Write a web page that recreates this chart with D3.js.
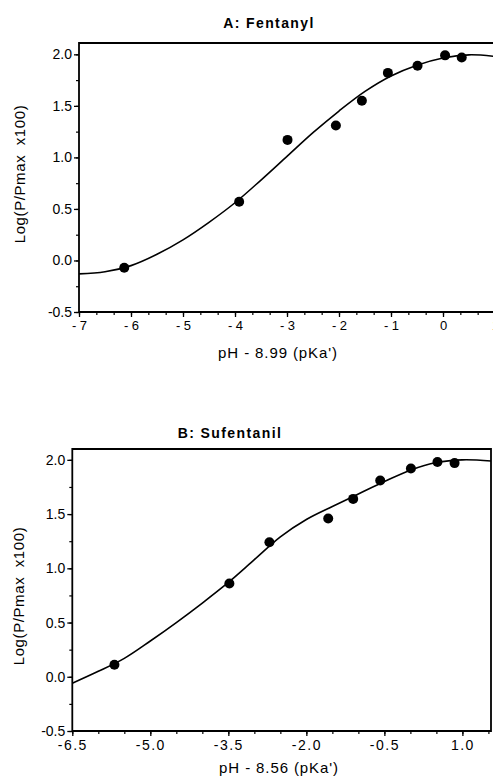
<!DOCTYPE html>
<html><head><meta charset="utf-8">
<script src="https://cdn.jsdelivr.net/npm/d3@7"></script>
<style>
html,body{margin:0;padding:0;background:#fff;}
svg text{font-family:"Liberation Sans",Arial,Helvetica,sans-serif;fill:#000;}
</style></head>
<body>
<svg id="c" width="493" height="781"></svg>
<script>
// ---- Panel A: Fentanyl ----
const titleA = "A: Fentanyl";
const xLabelA = "pH - 8.99 (pKa')";
const yLabel = "Log(P/Pmax  x100)";
const pointsAx = [-6.13, -3.92, -2.99, -2.06, -1.56, -1.06, -0.49, 0.04, 0.36];
const pointsAy = [-0.07, 0.57, 1.17, 1.31, 1.55, 1.82, 1.89, 1.99, 1.97];
const curveAx = [-7, -6.5, -6, -5.5, -5, -4.5, -4, -3.5, -3, -2.5, -2, -1.5, -1, -0.5, 0, 0.5, 1];
const curveAy = [-0.13, -0.11, -0.05, 0.06, 0.20, 0.37, 0.56, 0.78, 1.01, 1.24, 1.45, 1.64, 1.79, 1.895, 1.965, 1.995, 1.98];
const xTicksA = [-7, -6, -5, -4, -3, -2, -1, 0, 1];
const xTickLabelsA = ["- 7", "- 6", "- 5", "- 4", "- 3", "- 2", "- 1", "0", "1"];
const yTicks = [-0.5, 0, 0.5, 1, 1.5, 2];
const yTickLabels = ["-0.5", "0.0", "0.5", "1.0", "1.5", "2.0"];

// ---- Panel B: Sufentanil ----
const titleB = "B: Sufentanil";
const xLabelB = "pH - 8.56 (pKa')";
const pointsBx = [-5.69, -3.48, -2.71, -1.58, -1.10, -0.58, 0.01, 0.52, 0.85];
const pointsBy = [0.11, 0.86, 1.24, 1.46, 1.64, 1.81, 1.92, 1.98, 1.97];
const curveBx = [-6.5, -6, -5.5, -5, -4.5, -4, -3.5, -3, -2.5, -2, -1.5, -1, -0.5, 0, 0.5, 1, 1.55];
const curveBy = [-0.06, 0.05, 0.17, 0.33, 0.50, 0.68, 0.87, 1.08, 1.29, 1.45, 1.57, 1.685, 1.80, 1.905, 1.975, 2.0, 1.99];
const xTicksB = [-6.5, -5.0, -3.5, -2.0, -0.5, 1.0];
const xTickLabelsB = ["-6.5", "-5.0", "-3.5", "-2.0", "-0.5", "1.0"];

const svg = d3.select("#c");

function panel(cfg) {
  const x = d3.scaleLinear().domain(cfg.xDomain).range(cfg.xRange);
  const y = d3.scaleLinear().domain(cfg.yDomain).range(cfg.yRange);
  const g = svg.append("g");
  const [x0, x1] = cfg.xRange, [y0, y1] = cfg.yRange; // y0 bottom, y1 top

  const clipId = "clip" + cfg.id;
  svg.append("clipPath").attr("id", clipId).append("rect")
    .attr("x", x0).attr("y", y1).attr("width", x1 - x0).attr("height", y0 - y1);

  // minor ticks
  const xMinor = d3.range(cfg.xDomain[0], cfg.xDomain[1] + 1e-9, cfg.xMinorStep);
  g.append("g").attr("transform", `translate(0,${y0})`)
    .call(d3.axisBottom(x).tickValues(xMinor).tickSize(3).tickFormat(""))
    .call(a => a.select(".domain").remove())
    .call(a => a.selectAll("line").attr("stroke-width", 1.2));
  const yMinor = d3.range(-0.5, 2.01, 0.25);
  g.append("g").attr("transform", `translate(${x0},0)`)
    .call(d3.axisLeft(y).tickValues(yMinor).tickSize(3).tickFormat(""))
    .call(a => a.select(".domain").remove())
    .call(a => a.selectAll("line").attr("stroke-width", 1.2));

  // major x axis
  const xa = g.append("g").attr("transform", `translate(0,${y0})`)
    .call(d3.axisBottom(x).tickValues(cfg.xTicks).tickSize(5).tickPadding(4)
      .tickFormat((d, i) => cfg.xTickLabels[i]));
  xa.select(".domain").remove();
  xa.selectAll("line").attr("stroke-width", 1.3);
  xa.selectAll("text").style("font-size", cfg.xTickFont + "px")
    .style("letter-spacing", cfg.xTickLS + "px").attr("fill", "#000");

  // major y axis
  const ya = g.append("g").attr("transform", `translate(${x0},0)`)
    .call(d3.axisLeft(y).tickValues(yTicks).tickSize(5).tickPadding(2)
      .tickFormat((d, i) => yTickLabels[i]));
  ya.select(".domain").remove();
  ya.selectAll("line").attr("stroke-width", 1.3);
  ya.selectAll("text").style("font-size", "14px").attr("fill", "#000");

  // frame
  g.append("path")
    .attr("d", cfg.frame)
    .attr("fill", "none").attr("stroke", "#000").attr("stroke-width", 1.8);

  // curve
  const line = d3.line().x(d => x(d[0])).y(d => y(d[1])).curve(d3.curveCatmullRom.alpha(0.5));
  g.append("path")
    .datum(cfg.curveX.map((v, i) => [v, cfg.curveY[i]]))
    .attr("clip-path", `url(#${clipId})`)
    .attr("d", line).attr("fill", "none").attr("stroke", "#000").attr("stroke-width", 1.6);

  // points
  g.append("g").selectAll("circle")
    .data(cfg.px.map((v, i) => [v, cfg.py[i]]))
    .join("circle")
    .attr("cx", d => x(d[0])).attr("cy", d => y(d[1])).attr("r", 5).attr("fill", "#000");

  // title
  g.append("text").attr("x", cfg.titlePos[0]).attr("y", cfg.titlePos[1])
    .attr("text-anchor", "middle").style("font-size", "14px").style("font-weight", "bold")
    .style("letter-spacing", "1.4px").text(cfg.title);
  // x label
  g.append("text").attr("x", cfg.xLabelPos[0]).attr("y", cfg.xLabelPos[1])
    .attr("text-anchor", "middle").style("font-size", "15px").style("letter-spacing", "0.9px")
    .text(cfg.xLabel);
  // y label
  g.append("text").attr("transform", `translate(${cfg.yLabelPos[0]},${cfg.yLabelPos[1]}) rotate(-90)`)
    .attr("text-anchor", "middle").style("font-size", "15px").style("letter-spacing", "0.6px")
    .style("white-space", "pre").attr("xml:space", "preserve")
    .text(yLabel);
}

panel({
  id: "A",
  xDomain: [-7, 1], xRange: [79, 495],
  yDomain: [-0.5, 2.11], yRange: [312, 43],
  xMinorStep: 1 / 3,
  xTicks: xTicksA, xTickLabels: xTickLabelsA, xTickFont: 13, xTickLS: 0,
  frame: "M495,43 L79,43 L79,312 L495,312",
  curveX: curveAx, curveY: curveAy, px: pointsAx, py: pointsAy,
  title: titleA, titlePos: [269, 28],
  xLabel: xLabelA, xLabelPos: [278, 358],
  yLabelPos: [25, 174]
});

panel({
  id: "B",
  xDomain: [-6.5, 1.55], xRange: [72.3, 491],
  yDomain: [-0.5, 2.1], yRange: [731, 449],
  xMinorStep: 0.5,
  xTicks: xTicksB, xTickLabels: xTickLabelsB, xTickFont: 14, xTickLS: 1.5,
  frame: "M72.3,449 L491,449 L491,731 L72.3,731 Z",
  curveX: curveBx, curveY: curveBy, px: pointsBx, py: pointsBy,
  title: titleB, titlePos: [230, 438],
  xLabel: xLabelB, xLabelPos: [279, 773],
  yLabelPos: [24, 596]
});
</script>
</body></html>
